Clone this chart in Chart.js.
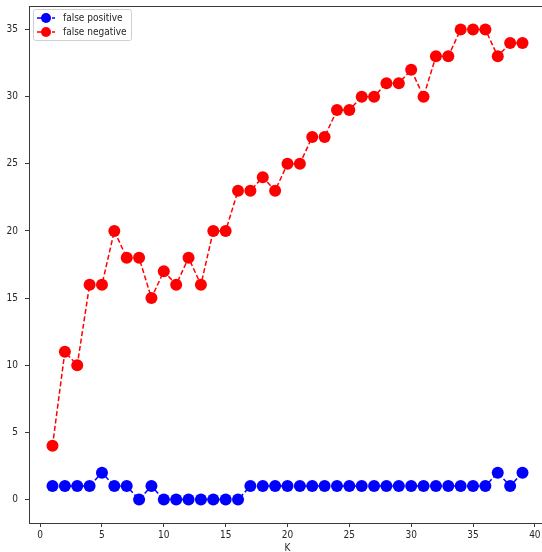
<!DOCTYPE html>
<html>
<head>
<meta charset="utf-8">
<script src="https://cdn.jsdelivr.net/npm/chart.js@4/dist/chart.umd.min.js"></script>
<style>
  html, body { margin: 0; padding: 0; background: #fff; overflow: hidden; }
  #wrap { width: 552px; height: 552px; }
</style>
</head>
<body>
<div id="wrap"><canvas id="kChart" width="552" height="552"></canvas></div>
<script>
// data
var kValues       = [1,2,3,4,5,6,7,8,9,10,11,12,13,14,15,16,17,18,19,20,21,22,23,24,25,26,27,28,29,30,31,32,33,34,35,36,37,38,39];
var falsePositive = [1,1,1,1,2,1,1,0,1,0,0,0,0,0,0,0,1,1,1,1,1,1,1,1,1,1,1,1,1,1,1,1,1,1,1,1,2,1,2];
var falseNegative = [4,11,10,16,16,20,18,18,15,17,16,18,16,20,20,23,23,24,23,25,25,27,27,29,29,30,30,31,31,32,30,33,33,35,35,35,33,34,34];
var xTicks = [0,5,10,15,20,25,30,35,40];
var yTicks = [0,5,10,15,20,25,30,35];

function pts(ys) {
  return kValues.map(function (k, i) { return { x: k, y: ys[i] }; });
}

var fontFamily = '"DejaVu Sans Condensed", "DejaVu Sans", sans-serif';
var fontSpec = { family: fontFamily, size: 10, lineHeight: 0.8 };
var ink = '#262626';

// matplotlib-style box and in-plot legend
var framePlugin = {
  id: 'frame',
  afterDraw: function (chart) {
    var ctx = chart.ctx, a = chart.chartArea;
    ctx.save();
    ctx.strokeStyle = '#3a3a3a';
    ctx.lineWidth = 1;
    ctx.strokeRect(Math.round(a.left) + 0.5, Math.round(a.top) + 0.5,
                   Math.round(a.right - a.left), Math.round(a.bottom - a.top));

    // legend box
    var bx = a.left + 4, by = a.top + 3, bw = 98, bh = 31;
    ctx.fillStyle = 'rgba(255,255,255,0.85)';
    ctx.strokeStyle = '#d0d0d0';
    ctx.beginPath();
    if (ctx.roundRect) ctx.roundRect(bx + 0.5, by + 0.5, bw, bh, 2); else ctx.rect(bx + 0.5, by + 0.5, bw, bh);
    ctx.fill();
    ctx.stroke();

    ctx.font = '10px ' + fontFamily;
    ctx.textBaseline = 'middle';
    chart.data.datasets.forEach(function (ds, i) {
      var cy = by + 9 + i * 14;
      ctx.strokeStyle = ds.borderColor;
      ctx.lineWidth = 1.5;
      ctx.setLineDash([5, 2.5]);
      ctx.beginPath();
      ctx.moveTo(bx + 4, cy);
      ctx.lineTo(bx + 22, cy);
      ctx.stroke();
      ctx.setLineDash([]);
      ctx.fillStyle = ds.borderColor;
      ctx.beginPath();
      ctx.arc(bx + 13, cy, 5, 0, Math.PI * 2);
      ctx.fill();
      ctx.fillStyle = ink;
      ctx.fillText(ds.label, bx + 30, cy + 0.5);
    });
    ctx.restore();
  }
};

var whiteBg = {
  id: 'whiteBg',
  beforeDraw: function (chart) {
    var ctx = chart.ctx;
    ctx.save();
    ctx.fillStyle = '#fff';
    ctx.fillRect(0, 0, chart.width, chart.height);
    ctx.restore();
  }
};

new Chart(document.getElementById('kChart').getContext('2d'), {
  type: 'line',
  data: {
    datasets: [
      {
        label: 'false positive',
        data: pts(falsePositive),
        borderColor: '#0000ff',
        backgroundColor: '#0000ff',
        borderWidth: 1.5,
        borderDash: [5, 2.5],
        pointRadius: 6,
        pointBorderWidth: 0,
        pointBackgroundColor: '#0000ff',
        tension: 0
      },
      {
        label: 'false negative',
        data: pts(falseNegative),
        borderColor: '#ff0000',
        backgroundColor: '#ff0000',
        borderWidth: 1.5,
        borderDash: [5, 2.5],
        pointRadius: 6,
        pointBorderWidth: 0,
        pointBackgroundColor: '#ff0000',
        tension: 0
      }
    ]
  },
  options: {
    responsive: false,
    animation: false,
    layout: { padding: { top: 5, right: 3, left: 0, bottom: 0 } },
    plugins: {
      legend: { display: false },
      tooltip: { enabled: false }
    },
    scales: {
      x: {
        type: 'linear',
        min: -0.9,
        max: 40.9,
        afterBuildTicks: function (s) { s.ticks = xTicks.map(function (v) { return { value: v }; }); },
        afterFit: function (s) { s.height = 29; s.paddingLeft = 0; s.paddingRight = 0; },
        grid: { display: true, drawOnChartArea: false, drawTicks: true, tickLength: 4, tickColor: '#3a3a3a' },
        border: { display: false },
        ticks: { color: ink, font: fontSpec, padding: 4, maxRotation: 0, autoSkip: false },
        title: { display: true, text: 'K', color: ink, font: fontSpec, padding: { top: 0, bottom: 0 } }
      },
      y: {
        type: 'linear',
        min: -1.75,
        max: 36.75,
        afterBuildTicks: function (s) { s.ticks = yTicks.map(function (v) { return { value: v }; }); },
        afterFit: function (s) { s.width = 29; s.paddingTop = 0; s.paddingBottom = 0; },
        grid: { display: true, drawOnChartArea: false, drawTicks: true, tickLength: 4, tickColor: '#3a3a3a' },
        border: { display: false },
        ticks: { color: ink, font: fontSpec, padding: 7, autoSkip: false }
      }
    }
  },
  plugins: [whiteBg, framePlugin]
});
</script>
</body>
</html>
